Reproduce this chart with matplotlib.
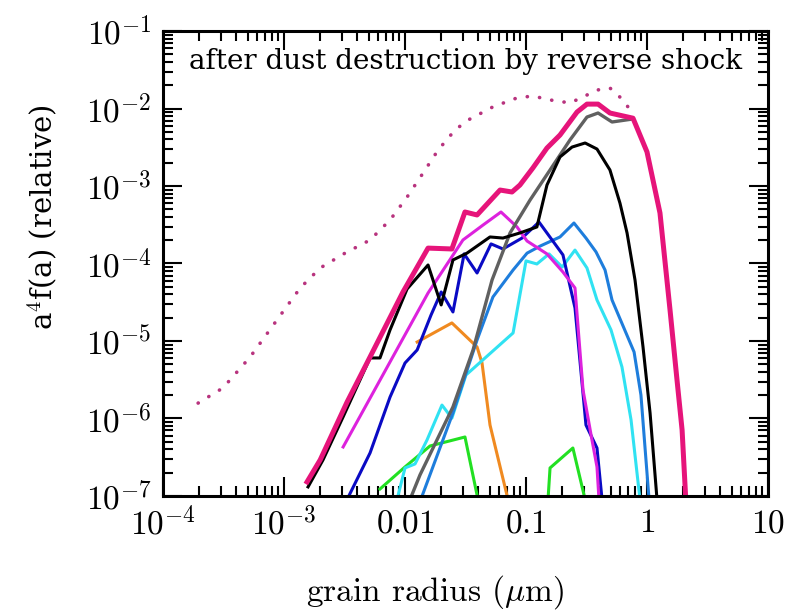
import matplotlib
matplotlib.use("Agg")
import matplotlib.pyplot as plt
from matplotlib.ticker import FixedLocator, FixedFormatter, LogLocator, NullFormatter

plt.rcParams["mathtext.fontset"] = "cm"
plt.rcParams["font.family"] = ["DejaVu Serif"]

# grain size distributions a^4 f(a), grain radius in micron
dotted_a = [1.95e-4, 3.13e-4, 5.24e-4, 8.75e-4, 1.36e-3, 1.99e-3, 3.19e-3, 5.14e-3,
            7.52e-3, 1.04e-2, 1.41e-2, 1.88e-2, 2.59e-2, 3.32e-2, 5.33e-2, 8.43e-2,
            0.114, 0.158, 0.231, 0.296, 0.386, 0.494, 0.634, 0.724]
dotted_f = [1.58e-6, 2.48e-6, 6.2e-6, 1.87e-5, 4.83e-5, 8.75e-5, 1.36e-4, 2.01e-4,
            3.64e-4, 7.2e-4, 1.47e-3, 2.92e-3, 5.28e-3, 7.1e-3, 1.05e-2, 1.37e-2,
            1.45e-2, 1.29e-2, 1.18e-2, 1.41e-2, 1.73e-2, 1.84e-2, 1.29e-2, 9.6e-3]

total_a = [1.55e-3, 1.99e-3, 3.32e-3, 5.14e-3, 9.62e-3, 1.55e-2, 2.44e-2, 3.13e-2,
           3.94e-2, 6.10e-2, 7.66e-2, 8.91e-2, 0.114, 0.149, 0.191, 0.264, 0.319,
           0.394, 0.494, 0.766, 1.0, 1.28, 1.55, 1.77, 1.95, 2.1]
total_f = [1.52e-7, 2.92e-7, 1.63e-6, 6.22e-6, 4.29e-5, 1.58e-4, 1.54e-4, 4.62e-4,
           4.23e-4, 8.87e-4, 8.37e-4, 1.03e-3, 1.71e-3, 3.09e-3, 4.55e-3, 9.0e-3,
           1.14e-2, 1.14e-2, 8.75e-3, 7.5e-3, 2.75e-3, 4.49e-4, 2.51e-5, 3.14e-6,
           7.1e-7, 8e-8]

gray_a = [1.10e-2, 1.33e-2, 2.49e-2, 3.65e-2, 5.24e-2, 5.76e-2, 7.38e-2, 0.108,
          0.158, 0.231, 0.319, 0.394, 0.514, 0.766]
gray_f = [9.0e-8, 1.87e-7, 1.41e-6, 7.66e-6, 6.12e-5, 9.0e-5, 2.48e-4, 6.59e-4,
          1.61e-3, 3.93e-3, 7.76e-3, 8.75e-3, 6.7e-3, 7.33e-3]

black_a = [1.58e-3, 2.10e-3, 3.08e-3, 5.14e-3, 6.21e-3, 7.52e-3, 1.04e-2, 1.55e-2,
           1.99e-2, 2.49e-2, 3.25e-2, 5.04e-2, 6.45e-2, 8.91e-2, 0.123, 0.149,
           0.191, 0.240, 0.308, 0.386, 0.494, 0.598, 0.684, 0.796, 0.927, 1.06, 1.21]
black_f = [1.31e-7, 2.92e-7, 1.05e-6, 6.04e-6, 6.04e-6, 1.39e-5, 4.69e-5, 9.57e-5,
           2.92e-5, 1.11e-4, 1.36e-4, 2.20e-4, 2.13e-4, 2.48e-4, 2.96e-4, 1.03e-3,
           2.37e-3, 3.18e-3, 3.59e-3, 3.0e-3, 1.61e-3, 6.0e-4, 2.48e-4, 6.12e-5,
           8.37e-6, 1.18e-6, 9.0e-8]

magenta_a = [3.08e-3, 1.55e-2, 3.01e-2, 4.42e-2, 6.21e-2, 8.43e-2, 0.102, 0.149,
             0.202, 0.254, 0.296, 0.351, 0.386, 0.401]
magenta_f = [4.29e-7, 4.16e-5, 2.01e-4, 3.14e-4, 4.62e-4, 2.96e-4, 1.95e-4, 1.33e-4,
             7.76e-5, 4.83e-5, 2.33e-6, 5.28e-7, 2.37e-7, 9.0e-8]

blue_a = [3.32e-3, 5.14e-3, 7.52e-3, 1.0e-2, 1.26e-2, 1.64e-2, 1.99e-2, 2.49e-2,
          3.08e-2, 3.94e-2, 5.14e-2, 6.45e-2, 9.27e-2, 0.128, 0.202, 0.254, 0.313,
          0.386, 0.425]
blue_f = [9.0e-8, 3.59e-7, 1.89e-6, 5.2e-6, 7.66e-6, 2.16e-5, 4.29e-5, 2.37e-5,
          1.33e-4, 7.54e-5, 1.79e-4, 1.54e-4, 2.13e-4, 3.43e-4, 1.29e-4, 2.67e-5,
          8.24e-7, 4.16e-7, 9.0e-8]

orange_a = [1.26e-2, 2.44e-2, 3.94e-2, 4.33e-2, 5.04e-2, 7.10e-2]
orange_f = [9.7e-6, 1.71e-5, 8.37e-6, 5.2e-6, 8.24e-7, 9.0e-8]

green1_a = [6.21e-3, 1.0e-2, 1.61e-2, 3.13e-2, 4.01e-2]
green1_f = [1.23e-7, 2.37e-7, 4.42e-7, 5.77e-7, 9.0e-8]
green2_a = [0.152, 0.158, 0.244, 0.308]
green2_f = [9.0e-8, 2.3e-7, 4.16e-7, 9.0e-8]

cyan_a = [8.59e-3, 1.0e-2, 1.21e-2, 1.52e-2, 2.02e-2, 2.44e-2, 3.19e-2, 7.82e-2,
          0.1, 0.123, 0.155, 0.199, 0.254, 0.319, 0.386, 0.504, 0.621, 0.738, 0.875]
cyan_f = [9.0e-8, 2.3e-7, 2.59e-7, 5.28e-7, 1.49e-6, 1.01e-6, 3.64e-6, 1.27e-5,
          1.08e-4, 9.86e-5, 1.33e-4, 9.0e-5, 1.49e-4, 8.75e-5, 3.38e-5, 1.39e-5,
          4.62e-6, 9.6e-7, 9.0e-8]

midblue_a = [1.35e-2, 2.49e-2, 3.94e-2, 5.33e-2, 7.82e-2, 0.102, 0.131, 0.191,
             0.249, 0.313, 0.379, 0.450, 0.514, 0.782, 0.891, 0.962, 1.04]
midblue_f = [9.0e-8, 1.18e-6, 1.03e-5, 3.7e-5, 8.24e-5, 1.36e-4, 1.68e-4, 2.2e-4,
             3.33e-4, 2.13e-4, 1.41e-4, 8.24e-5, 3.38e-5, 7.21e-6, 2.01e-6,
             4.29e-7, 9.0e-8]

xticks = [1e-4, 1e-3, 1e-2, 1e-1, 1, 10]
xticklabels = [r"$10^{-4}$", r"$10^{-3}$", r"$0.01$", r"$0.1$", r"$1$", r"$10$"]
yticks = [1e-7, 1e-6, 1e-5, 1e-4, 1e-3, 1e-2, 1e-1]
yticklabels = [r"$10^{-7}$", r"$10^{-6}$", r"$10^{-5}$", r"$10^{-4}$",
               r"$10^{-3}$", r"$10^{-2}$", r"$10^{-1}$"]

fig = plt.figure(figsize=(7.98, 6.13), dpi=100)
ax = fig.add_axes([0.2043, 0.1909, 0.7581, 0.7585])

ax.plot(dotted_a, dotted_f, color="#b8337e", lw=2.6, linestyle=(0, (0.05, 3.4)),
        dash_capstyle="round")
ax.plot(green1_a, green1_f, color="#22e022", lw=2.2)
ax.plot(green2_a, green2_f, color="#22e022", lw=2.2)
ax.plot(orange_a, orange_f, color="#f08a20", lw=2.2)
ax.plot(cyan_a, cyan_f, color="#30e2f2", lw=2.2)
ax.plot(midblue_a, midblue_f, color="#1e7ddc", lw=2.2)
ax.plot(blue_a, blue_f, color="#0a0ac4", lw=2.2)
ax.plot(magenta_a, magenta_f, color="#dd22dd", lw=2.2)
ax.plot(gray_a, gray_f, color="#606060", lw=2.4)
ax.plot(black_a, black_f, color="black", lw=2.2)
ax.plot(total_a, total_f, color="#e6147a", lw=3.6)

ax.set_xscale("log")
ax.set_yscale("log")
ax.set_xlim(1e-4, 10)
ax.set_ylim(1e-7, 1e-1)

ax.xaxis.set_major_locator(FixedLocator(xticks))
ax.xaxis.set_major_formatter(FixedFormatter(xticklabels))
ax.yaxis.set_major_locator(FixedLocator(yticks))
ax.yaxis.set_major_formatter(FixedFormatter(yticklabels))
for axis in (ax.xaxis, ax.yaxis):
    axis.set_minor_locator(LogLocator(base=10, subs=range(2, 10), numticks=20))
    axis.set_minor_formatter(NullFormatter())

ax.tick_params(which="both", direction="in", top=True, right=True, width=1.5,
               labelsize=24, pad=8)
ax.tick_params(which="major", length=14)
ax.tick_params(which="minor", length=7)
for s in ax.spines.values():
    s.set_linewidth(2.2)

ax.set_xlabel(r"grain radius ($\mu$m)", fontsize=24, family="cmr10")
ax.xaxis.set_label_coords(0.45, -0.165)
ax.set_ylabel(r"a$^4$f(a) (relative)", fontsize=21)
ax.yaxis.set_label_coords(-0.172, 0.60)
ax.text(0.5, 0.935, "after dust destruction by reverse shock", transform=ax.transAxes,
        ha="center", va="center", fontsize=20)

fig.savefig("out.png", dpi=100)
